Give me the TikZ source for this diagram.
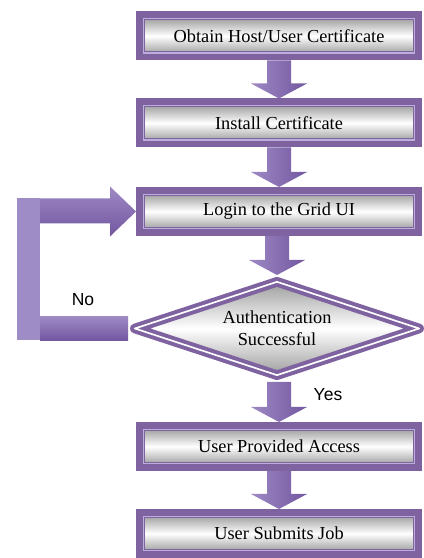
\documentclass[tikz,border=0pt]{standalone}
\usepackage{fontspec}
\setmainfont{Liberation Serif}
\newfontfamily\yesnofont{Liberation Sans}
\usetikzlibrary{calc,shapes.geometric}

\definecolor{frame}{HTML}{7F63A1}
\definecolor{lavline}{HTML}{BCAEDA}
\definecolor{arrowlite}{HTML}{9E89C4}
\definecolor{arrowdark}{HTML}{7257A0}
\definecolor{loopside}{HTML}{9D8CC6}
\definecolor{boxgray}{HTML}{8C8C8C}

\tikzset{
  stepbox/.style={rectangle, draw=frame, line width=4pt,
    top color=boxgray, bottom color=boxgray, middle color=white,
    minimum width=167.6pt, minimum height=25.4pt, inner sep=0pt,
    font=\fontsize{11}{13}\selectfont,
    path picture={
      \draw[lavline, line width=0.8pt] ([shift={(2.4pt,-2.4pt)}]path picture bounding box.north west) rectangle ([shift={(-2.4pt,2.4pt)}]path picture bounding box.south east);
      \draw[frame, line width=0.6pt] ([shift={(3.1pt,-3.1pt)}]path picture bounding box.north west) rectangle ([shift={(-3.1pt,3.1pt)}]path picture bounding box.south east);
    }},
  decision/.style={diamond, aspect=3, draw=frame, line width=2.4pt, line join=round,
    double=white, double distance=1pt,
    top color=boxgray!85, bottom color=boxgray!85, middle color=white,
    minimum width=173pt, minimum height=58.4pt, inner sep=0pt, outer sep=2.9pt,
    align=center, font=\fontsize{11}{13}\selectfont},
  fatarrow/.style={left color=arrowlite, right color=arrowdark},
  loopbar/.style={top color=arrowlite, bottom color=arrowdark},
  loopside/.style={fill=loopside},
  yesno/.style={font=\yesnofont\fontsize{10.5}{12}\selectfont}
}

% block arrow pointing down from one node to the next
\def\fatdown(#1)(#2){\path[fatarrow] ($(#1.south -| #2.north)+(-12,0)$) -- ($(#1.south -| #2.north)+(12,0)$) -- ($(#2.north)+(12,15)$) -- ($(#2.north)+(28,15)$) -- (#2.north) -- ($(#2.north)+(-28,15)$) -- ($(#2.north)+(-12,15)$) -- cycle;}

\begin{document}
\begin{tikzpicture}[x=0.6pt, y=0.6pt]
  \useasboundingbox (0,0) rectangle (424,558);

  % steps
  \node[stepbox] (obtain) at (279, 522) {Obtain Host/User Certificate};
  \node[stepbox] (install) at (279, 435) {Install Certificate};
  \node[stepbox] (login) at (279, 346.5) {Login to the Grid UI};
  \node[decision] (auth) at (277, 229.5) {Authentication\\Successful};
  \node[stepbox] (access) at (279, 111.5) {User Provided Access};
  \node[stepbox] (submit) at (279, 24.5) {User Submits Job};

  % down arrows
  \fatdown(obtain)(install)
  \fatdown(install)(login)
  \fatdown(login)(auth)
  \fatdown(auth)(access)
  \fatdown(access)(submit)

  % failed login goes back round
  \path[loopbar] ($(auth.west)+(0,12)$) rectangle ($(auth.west)+(-88,-12)$);
  \path[loopside] ($(auth.west)+(-111,-12)$) rectangle ($(login.west)+(-96,13)$);
  \path[loopbar] ($(login.west)+(-96,13)$) -- ($(login.west)+(-26,13)$) -- ($(login.west)+(-26,25)$) -- (login.west) -- ($(login.west)+(-26,-25)$) -- ($(login.west)+(-26,-12)$) -- ($(login.west)+(-96,-12)$) -- cycle;

  \node[yesno] (no) at (83, 258) {No};
  \node[yesno] (yes) at (328, 163) {Yes};
\end{tikzpicture}
\end{document}
